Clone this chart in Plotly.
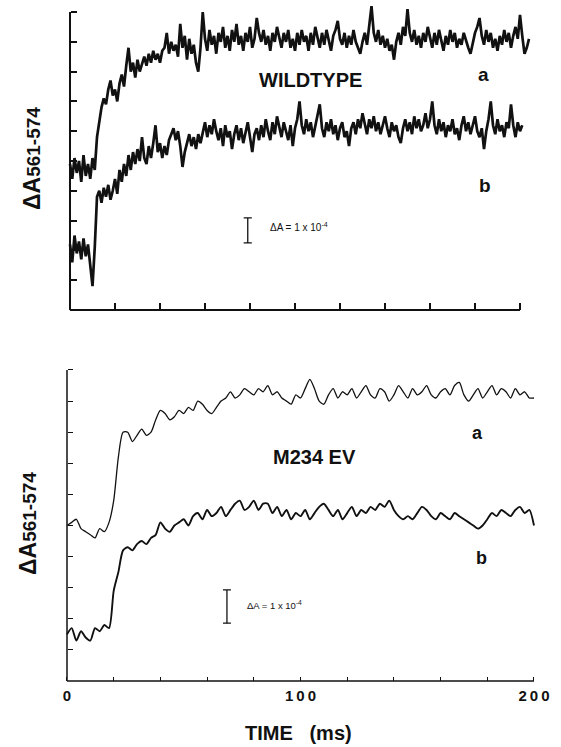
import numpy as np
import plotly.graph_objects as go

# ---------------- data ----------------
# Top panel (WILDTYPE), time step 1 ms, values in tick units (axis 0-100)
wt_a = [
    49, 44, 51, 46, 50, 43, 52, 45, 49, 44,
    51, 47, 58, 63, 68, 71, 69, 74, 77, 72,
    74, 70, 76, 79, 75, 82, 88, 80, 83, 78,
    84, 80, 83, 85, 82, 86, 83, 87, 84, 86,
    83, 87, 88, 93, 86, 90, 87, 89, 85, 96,
    88, 92, 84, 91, 86, 89, 83, 80, 88, 100,
    91, 87, 94, 89, 92, 86, 93, 90, 95, 88,
    92, 87, 94, 90, 96, 89, 92, 87, 93, 90,
    95, 88, 91, 98, 93, 90, 94, 89, 92, 87,
    93, 90, 95, 91, 88, 93, 90, 94, 88, 91,
    87, 93, 89, 94, 90, 92, 87, 93, 89, 95,
    91, 88, 93, 89, 94, 90, 87, 92, 94, 97,
    91, 89, 93, 88, 92, 89, 94, 90, 88, 86,
    90, 93, 89, 95, 102, 93, 90, 94, 89, 92,
    88, 91, 87, 89, 84, 90, 93, 89, 95, 92,
    101, 93, 90, 94, 89, 92, 88, 93, 90, 95,
    91, 88, 93, 89, 94, 90, 87, 92, 89, 94,
    90, 93, 88, 91, 89, 93, 90, 88, 86, 90,
    93, 95, 98, 92, 89, 94, 90, 93, 88, 91,
    87, 92, 89, 94, 90, 93, 88, 92, 95, 91,
    99, 92, 86, 88, 91,
]
wt_b = [
    22, 16, 25, 19, 23, 17, 24, 18, 22, 15,
    8, 21, 38, 40, 36, 41, 38, 42, 37, 40,
    44, 39, 47, 43, 49, 45, 52, 47, 53, 49,
    54, 50, 58, 51, 49, 55, 51, 56, 62, 53,
    56, 51, 55, 52, 57, 59, 61, 57, 60, 55,
    48, 53, 56, 59, 55, 58, 54, 59, 56, 60,
    63, 58, 62, 59, 64, 60, 57, 61, 55, 62,
    58, 60, 54, 59, 62, 57, 61, 56, 60, 63,
    58, 53, 59, 61, 57, 62, 58, 64, 60, 57,
    63, 59, 65, 61, 58, 63, 60, 57, 62, 55,
    61, 64, 70, 62, 59, 64, 60, 63, 58, 62,
    65, 69, 61, 58, 63, 60, 64, 59, 62, 57,
    61, 63, 58, 60, 55, 61, 63, 59, 64, 61,
    66, 62, 59, 64, 61, 65, 60, 63, 59, 62,
    65, 61, 58, 63, 60, 62, 58, 56, 61, 64,
    60, 63, 59, 65, 61, 64, 60, 62, 66, 61,
    64, 70, 62, 59, 64, 60, 63, 58, 62, 60,
    64, 59, 61, 57, 62, 65, 60, 63, 59, 62,
    65, 60, 58, 61, 54, 60, 64, 70, 62, 59,
    64, 60, 62, 58, 63, 61, 69, 62, 58, 63,
    60, 62,
]
wt_time_a = np.arange(len(wt_a))   # ms, 1 ms sampling
wt_time_b = np.arange(len(wt_b))

# Bottom panel (M234 EV), time step 2 ms, values in tick units (axis 0-100)
ev_a = [
    50, 51, 52, 49, 48, 47, 46, 49, 48, 51,
    58, 72, 80, 80, 77, 79, 81, 79, 80, 84,
    87, 86, 84, 85, 87, 86, 88, 87, 90, 89,
    87, 86, 88, 90, 91, 93, 91, 92, 94, 93,
    92, 94, 93, 95, 92, 93, 91, 90, 89, 92,
    91, 94, 97, 94, 90, 89, 92, 94, 91, 93,
    92, 94, 91, 93, 95, 92, 91, 94, 93, 90,
    92, 95, 93, 91, 94, 92, 93, 95, 92, 91,
    93, 94, 92, 95, 96, 92, 90, 92, 94, 91,
    93, 95, 92, 94, 93, 91, 94, 92, 93, 91,
    91,
]
ev_b = [
    15, 17, 13, 16, 14, 13, 17, 16, 18, 17,
    29, 35, 42, 43, 42, 44, 45, 44, 46, 47,
    51, 49, 48, 50, 51, 52, 50, 53, 54, 52,
    55, 53, 54, 56, 53, 55, 57, 58, 55, 56,
    58, 55, 57, 57, 54, 56, 53, 55, 52, 54,
    53, 55, 52, 54, 56, 57, 55, 53, 55, 52,
    54, 56, 53, 55, 54, 56, 55, 57, 56, 58,
    55, 53, 52, 53, 52, 54, 56, 55, 53, 52,
    54, 53, 52, 54, 53, 52, 51, 50, 49, 50,
    52, 54, 53, 55, 54, 53, 55, 56, 54, 55,
    50,
]
ev_time = np.arange(len(ev_a)) * 2  # ms, 2 ms sampling

x_minor_ticks = list(range(20, 201, 20))
x_label_vals = [0, 100, 200]
x_label_text = ["0", "1\u20090\u20090", "2\u20090\u20090"]
y_ticks = list(range(10, 101, 10))

# scale bars (ΔA = 1e-4) in axis units
wt_bar = dict(t=79, lo=22.5, hi=30.9)
ev_bar = dict(t=68.5, lo=18.6, hi=29.3)

# ---------------- layout geometry ----------------
W, H = 561, 747
FONT = "Liberation Sans, Arial, Helvetica, sans-serif"
INK = "#111111"

T_X0, T_XS, T_Y0, T_YS = 70, 2.25, 310, 2.98
B_X0, B_XS, B_Y0, B_YS = 67, 2.335, 681, 3.11
t_xr, t_yr = [-1.5, 205], [-1.0, 103.5]
b_xr, b_yr = [-1.5, 201.5], [-1.5, 101.5]


def xdom(x0, xs, xr):
    return [(x0 + xr[0] * xs) / W, (x0 + xr[1] * xs) / W]


def ydom(y0, ys, yr):
    return [1 - (y0 - yr[0] * ys) / H, 1 - (y0 - yr[1] * ys) / H]


fig = go.Figure()
fig.add_trace(go.Scatter(x=wt_time_a, y=wt_a, mode="lines", line=dict(color=INK, width=2.7),
                         xaxis="x", yaxis="y", hoverinfo="skip", showlegend=False))
fig.add_trace(go.Scatter(x=wt_time_b, y=wt_b, mode="lines", line=dict(color=INK, width=2.7),
                         xaxis="x", yaxis="y", hoverinfo="skip", showlegend=False))
fig.add_trace(go.Scatter(x=ev_time, y=ev_a, mode="lines",
                         line=dict(color=INK, width=1.3, shape="spline", smoothing=0.7),
                         xaxis="x2", yaxis="y2", hoverinfo="skip", showlegend=False))
fig.add_trace(go.Scatter(x=ev_time, y=ev_b, mode="lines",
                         line=dict(color=INK, width=1.9, shape="spline", smoothing=0.7),
                         xaxis="x2", yaxis="y2", hoverinfo="skip", showlegend=False))

common = dict(showgrid=False, zeroline=False, showline=False, ticks="inside",
              tickcolor=INK, fixedrange=True)
fig.update_layout(
    width=W, height=H, margin=dict(l=0, r=0, t=0, b=0, autoexpand=False),
    autosize=False,
    paper_bgcolor="white", plot_bgcolor="white",
    font=dict(family=FONT, color=INK),
    xaxis=dict(domain=xdom(T_X0, T_XS, t_xr), range=t_xr, anchor="free",
               position=1 - T_Y0 / H, tickvals=x_minor_ticks, ticklen=7, tickwidth=1.5,
               showticklabels=False, **common),
    yaxis=dict(domain=ydom(T_Y0, T_YS, t_yr), range=t_yr, anchor="free",
               position=T_X0 / W, tickvals=y_ticks, ticklen=6, tickwidth=1.5,
               showticklabels=False, **common),
    xaxis2=dict(domain=xdom(B_X0, B_XS, b_xr), range=b_xr, anchor="free",
                position=1 - B_Y0 / H, tickvals=x_label_vals, ticktext=x_label_text,
                ticklen=4, tickwidth=1.2, ticklabelstandoff=4,
                minor=dict(tickvals=x_minor_ticks, ticks="inside", ticklen=4, tickwidth=1.2,
                           tickcolor=INK, showgrid=False),
                tickfont=dict(family=FONT, size=15, weight="bold", color=INK), **common),
    yaxis2=dict(domain=ydom(B_Y0, B_YS, b_yr), range=b_yr, anchor="free",
                position=B_X0 / W, tickvals=y_ticks, ticklen=5, tickwidth=1.2,
                showticklabels=False, **common),
)

shapes = []
shapes.append(dict(type="line", xref="x", yref="y", x0=0, x1=200, y0=0, y1=0, line=dict(color=INK, width=2)))
shapes.append(dict(type="line", xref="x", yref="y", x0=0, x1=0, y0=0, y1=100, line=dict(color=INK, width=2)))
shapes.append(dict(type="line", xref="x2", yref="y2", x0=0, x1=200, y0=0, y1=0, line=dict(color=INK, width=1.5)))
shapes.append(dict(type="line", xref="x2", yref="y2", x0=0, x1=0, y0=0, y1=100, line=dict(color=INK, width=1.5)))
for bar, xr_, yr_, hw in ((wt_bar, "x", "y", 1.8), (ev_bar, "x2", "y2", 1.7)):
    shapes.append(dict(type="line", xref=xr_, yref=yr_, x0=bar["t"], x1=bar["t"], y0=bar["lo"], y1=bar["hi"],
                       line=dict(color=INK, width=1.3)))
    for yy in (bar["lo"], bar["hi"]):
        shapes.append(dict(type="line", xref=xr_, yref=yr_, x0=bar["t"] - hw, x1=bar["t"] + hw, y0=yy, y1=yy,
                           line=dict(color=INK, width=1.3)))
fig.update_layout(shapes=shapes)

ann = []


def txt(text, x, y, xref, yref, size, xanchor="center", yanchor="middle", angle=0):
    ann.append(dict(text=text, x=x, y=y, xref=xref, yref=yref, showarrow=False, xanchor=xanchor,
                    yanchor=yanchor, textangle=angle, font=dict(family=FONT, size=size, color=INK)))


txt("<b>WILDTYPE</b>", 106.7, 77.2, "x", "y", 20)
txt("<b>a</b>", 183.6, 78.9, "x", "y", 19)
txt("<b>b</b>", 184.4, 41.9, "x", "y", 19)
txt("ΔA = 1 x 10<sup>-4</sup>", 88, 27.9, "x", "y", 10, xanchor="left")
txt("<b>M234 EV</b>", 106.2, 72, "x2", "y2", 20)
txt("<b>a</b>", 175.6, 79.7, "x2", "y2", 18)
txt("<b>b</b>", 177.7, 39.5, "x2", "y2", 18)
txt("ΔA = 1 x 10<sup>-4</sup>", 76.2, 24.4, "x2", "y2", 9.5, xanchor="left")
ytitle = "<b>ΔA<span style='font-size:19px'>561-574</span></b>"
txt(ytitle, 32 / W, 1 - 158 / H, "paper", "paper", 23, angle=-90)
txt(ytitle, 28 / W, 1 - 524 / H, "paper", "paper", 23, angle=-90)
txt("<b>TIME\u00a0\u00a0\u00a0(ms)</b>", 298 / W, 1.5 / H, "paper", "paper", 20, yanchor="bottom")
fig.update_layout(annotations=ann)

# make the page exactly the figure (no body margin, no scrollbars)
post = """
document.documentElement.style.overflow = 'hidden';
document.body.style.margin = '0';
"""
fig.write_html("out.html", config={"responsive": False, "displayModeBar": False}, post_script=post)
